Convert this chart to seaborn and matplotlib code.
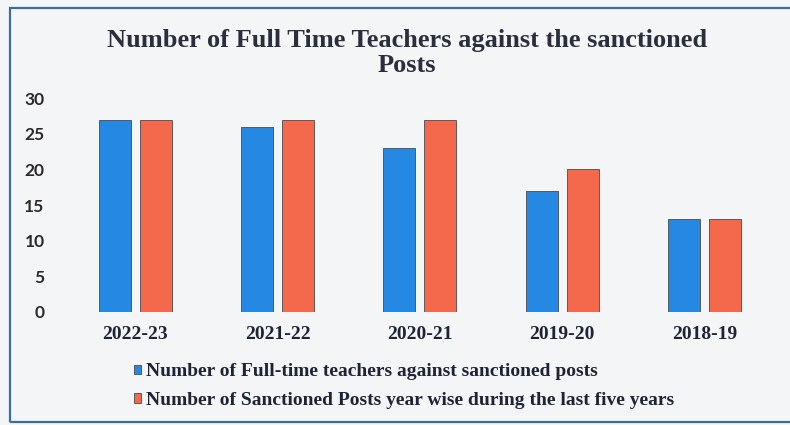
"""
Full time teachers vs sanctioned posts - grouped bar chart
"""

import pandas as pd
import matplotlib.pyplot as plt
import seaborn as sns
from matplotlib.patches import Rectangle

# Data
years = ['2022-23', '2021-22', '2020-21', '2019-20', '2018-19']
full_time_teachers = [27, 26, 23, 17, 13]
sanctioned_posts = [27, 27, 27, 20, 13]
series_names = ['Number of Full-time teachers against sanctioned posts',
                'Number of Sanctioned Posts year wise during the last five years']
y_ticks = [0, 5, 10, 15, 20, 25, 30]

df = pd.DataFrame({
    'Year': years * 2,
    'Value': full_time_teachers + sanctioned_posts,
    'Series': [series_names[0]] * len(years) + [series_names[1]] * len(years),
})

sns.set_style("white")
plt.rcParams['font.family'] = ['Liberation Serif', 'DejaVu Serif']

bg = '#f4f5f7'
text_col = '#1e2433'
palette = {series_names[0]: '#2589e3', series_names[1]: '#f4684c'}

fig = plt.figure(figsize=(7.9, 4.25), dpi=100, facecolor=bg)
ax = fig.add_axes([0.081, 0.266, 0.901, 0.503])
ax.set_facecolor(bg)

sns.barplot(data=df, x='Year', y='Value', hue='Series', order=years,
            hue_order=series_names, palette=palette, saturation=1,
            width=0.576, gap=0.22,
            edgecolor='#4a4a4a', linewidth=0.6, ax=ax)

ax.set_ylim(0, 30)
ax.set_xlim(-0.5, 4.5)
ax.set_yticks(y_ticks)
ax.set_xlabel('')
ax.set_ylabel('')
for s in ax.spines.values():
    s.set_visible(False)

ax.tick_params(axis='y', length=0, pad=14)
ax.tick_params(axis='x', length=0, pad=10)
for lbl in ax.get_yticklabels():
    lbl.set_fontfamily('Lato')
    lbl.set_fontweight('bold')
    lbl.set_fontsize(12.5)
    lbl.set_color('#2a2a2a')
for lbl in ax.get_xticklabels():
    lbl.set_fontweight('bold')
    lbl.set_fontsize(14)
    lbl.set_color(text_col)

# Legend below the plot
handles, labels = ax.get_legend_handles_labels()
ax.legend_.remove()
leg = fig.legend(handles, labels, loc='upper left',
                 bbox_to_anchor=(116 / 790, 1 - 346 / 425),
                 frameon=False, handlelength=0.4, handleheight=0.4,
                 handletextpad=0.25, labelspacing=0.6,
                 prop={'family': 'Liberation Serif', 'weight': 'bold', 'size': 14})
for t in leg.get_texts():
    t.set_color(text_col)

# Title
fig.text(407 / 790, 1 - 29 / 425,
         'Number of Full Time Teachers against the sanctioned\nPosts',
         ha='center', va='top', fontsize=19, fontweight='bold',
         color='#2b2f3c', linespacing=1.1)

# Frame around the chart
fig.patches.append(Rectangle((10 / 790, 3 / 425), 790 / 790, 414 / 425,
                             transform=fig.transFigure, fill=False,
                             edgecolor='#3c6e99', linewidth=1.6))

fig.savefig('out.png', dpi=100, facecolor=bg)
